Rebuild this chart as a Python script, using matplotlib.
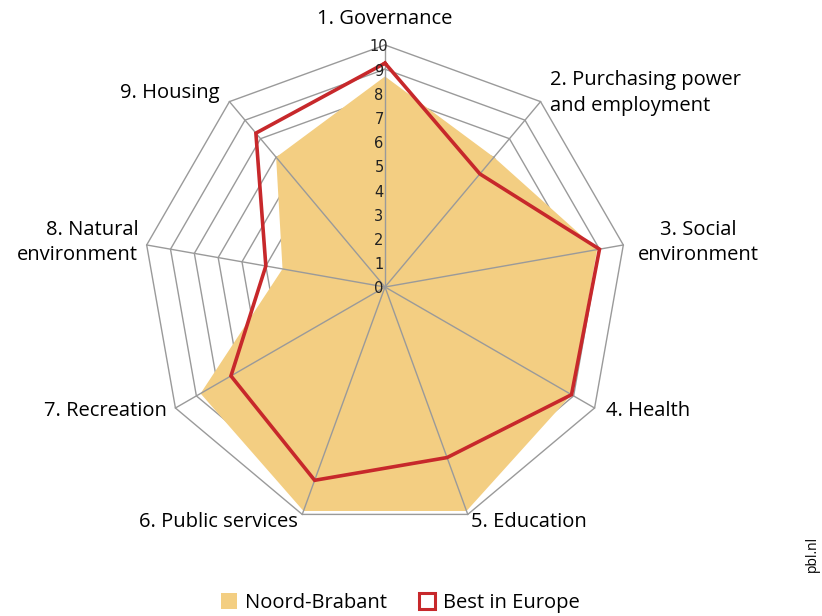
import numpy as np
import matplotlib
matplotlib.use('Agg')
import matplotlib.pyplot as plt
from matplotlib.patches import Patch

plt.rcParams['font.family'] = ['Open Sans', 'DejaVu Sans']

labels = ['1. Governance', '2. Purchasing power\nand employment', '3. Social\nenvironment',
          '4. Health', '5. Education', '6. Public services', '7. Recreation',
          '8. Natural\nenvironment', '9. Housing']
noord_brabant = [8.7, 7.0, 8.9, 8.9, 9.85, 9.85, 8.8, 4.3, 7.0]
best_europe = [9.25, 6.1, 9.0, 8.9, 7.5, 8.5, 7.35, 5.0, 8.3]
ticks = list(range(0, 11))

n = len(labels)
ang = np.radians(90 - 360.0 / n * np.arange(n))
cx, cy = np.cos(ang), np.sin(ang)

def closed(a):
    return np.append(a, a[0])

fig = plt.figure(figsize=(8.22, 6.16), dpi=100)
ax = fig.add_axes([0, 0, 1, 1])
scale = 24.2  # px per unit
ax.set_xlim(-385 / scale, (822 - 385) / scale)
ax.set_ylim(-(616 - 287) / scale, 287 / scale)
ax.axis('off')

grid = '#9a9a9a'
# rings
for r in ticks[1:]:
    ax.plot(closed(cx * r), closed(cy * r), color=grid, lw=1.0, zorder=1)

# Noord-Brabant fill
v = np.array(noord_brabant)
ax.fill(cx * v, cy * v, color='#F3CE82', lw=0, zorder=2)

# spokes
for i in range(n):
    ax.plot([0, cx[i] * 10], [0, cy[i] * 10], color=grid, lw=1.0, zorder=3)

# Best in Europe
b = np.array(best_europe)
ax.plot(closed(cx * b), closed(cy * b), color='#C7282B', lw=2.6, zorder=4,
        solid_joinstyle='miter')

# tick labels on axis 1
for t in ticks:
    ax.text(-0.25, t - 0.08, str(t), ha='center', va='center', fontsize=10.5,
            color='#222222', zorder=5, family=['DejaVu Sans'])

# axis labels
fs = 14.5
ls = 1.35
d = 0.12
ax.text(0, 11.2 - d, labels[0], ha='center', va='center', fontsize=fs)
ax.text(6.8, 8.14 - d, labels[1], ha='left', va='center', fontsize=fs, linespacing=ls)
ax.text(12.93, 1.95 - d, labels[2], ha='center', va='center', fontsize=fs, linespacing=ls)
ax.text(9.15, -5.0 - d, labels[3], ha='left', va='center', fontsize=fs)
ax.text(3.55, -9.6 - d, labels[4], ha='left', va='center', fontsize=fs)
ax.text(-3.6, -9.6 - d, labels[5], ha='right', va='center', fontsize=fs)
ax.text(-9.0, -5.0 - d, labels[6], ha='right', va='center', fontsize=fs)
ax.text(-10.2, 1.95 - d, labels[7], ha='right', va='center', fontsize=fs, linespacing=ls)
ax.text(-6.85, 8.15 - d, labels[8], ha='right', va='center', fontsize=fs)

fig.text(0.988, 0.10, 'pbl.nl', rotation=90, ha='center', va='center', fontsize=10)

handles = [Patch(facecolor='#F3CE82', edgecolor='none', label='Noord-Brabant'),
           Patch(facecolor='white', edgecolor='#C7282B', lw=2.2, label='Best in Europe')]
fig.legend(handles=handles, loc='center', bbox_to_anchor=(0.487, 0.021), ncol=2,
           frameon=False, fontsize=14.5, handlelength=0.8, handleheight=0.8,
           handletextpad=0.4, columnspacing=1.6)

fig.savefig('out.png', dpi=100)
